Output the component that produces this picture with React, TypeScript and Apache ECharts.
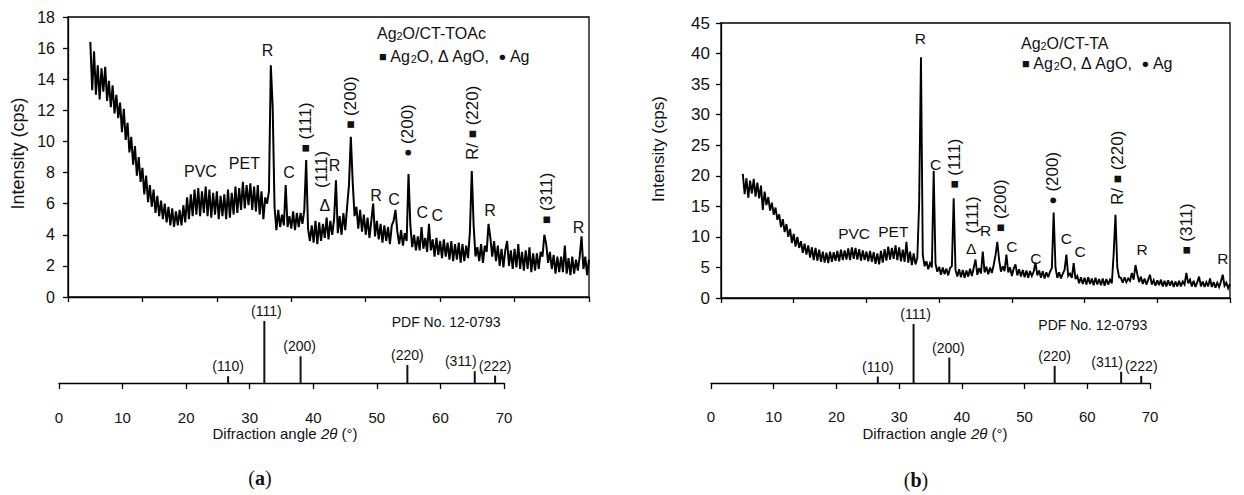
import React, { useEffect, useRef } from 'react';
import * as echarts from 'echarts';

// ---------- data ----------
const ANGLE_START = 3;
const ANGLE_STEP = 0.25;

// Ag2O/CT-TOAc, intensity (cps) from 3.00 deg to 70.00 deg every 0.25 deg
const intensityA = [
  16.4, 13.3, 15.8, 13.0, 14.9, 12.7, 14.7, 13.2,
  14.8, 12.6, 13.9, 12.2, 13.6, 11.8, 13.0, 11.5,
  12.5, 10.6, 12.1, 10.1, 11.2, 9.3, 10.3, 8.5,
  9.7, 7.8, 9.0, 7.4, 8.3, 6.6, 7.8, 6.1,
  7.2, 5.8, 6.9, 5.4, 6.5, 5.2, 6.2, 5.0,
  6.0, 4.8, 5.8, 4.6, 5.7, 4.5, 5.5, 4.6,
  5.6, 4.6, 5.9, 4.8, 6.4, 5.0, 6.6, 5.2,
  6.9, 5.3, 7.0, 5.2, 6.8, 5.4, 7.1, 5.2,
  6.9, 5.1, 6.7, 5.3, 6.8, 5.0, 6.5, 5.2,
  6.6, 5.0, 6.9, 5.1, 6.7, 5.3, 7.1, 5.4,
  7.0, 5.6, 7.4, 5.7, 7.2, 5.9, 7.3, 5.6,
  7.1, 5.5, 7.2, 5.3, 6.8, 5.0, 6.4, 6.0,
  6.8, 14.9, 12.2, 5.8, 4.3, 5.6, 4.5, 5.3,
  4.6, 7.2, 4.5, 5.2, 4.4, 5.5, 4.3, 5.4,
  4.5, 5.4, 4.7, 5.6, 8.8, 4.4, 3.6, 4.6,
  3.5, 4.9, 3.4, 4.8, 3.6, 4.7, 3.8, 5.1,
  3.7, 4.9, 4.0, 5.0, 7.5, 4.1, 5.2, 4.0,
  5.4, 4.3, 5.8, 7.2, 10.3, 7.4, 5.2, 5.8,
  4.4, 5.6, 4.2, 5.3, 4.0, 5.1, 3.8, 4.9,
  6.0, 3.9, 4.9, 3.7, 4.7, 3.5, 4.6, 3.6,
  4.5, 3.4, 4.6, 4.9, 5.6, 4.2, 3.4, 4.3,
  3.3, 4.1, 3.6, 7.9, 4.6, 3.2, 4.0, 3.0,
  3.9, 3.0, 4.5, 3.1, 3.8, 2.9, 4.7, 3.0,
  3.7, 2.6, 3.8, 2.7, 3.6, 2.5, 3.7, 2.6,
  3.5, 2.4, 3.6, 2.3, 3.4, 2.4, 3.5, 2.2,
  3.4, 2.3, 3.3, 2.5, 4.2, 8.1, 4.6, 2.6,
  3.2, 2.3, 3.4, 2.2, 3.3, 2.9, 4.7, 3.8,
  2.6, 3.6, 2.3, 3.3, 2.0, 3.1, 1.9, 3.0,
  3.6, 2.0, 3.0, 1.8, 3.1, 1.9, 3.4, 1.8,
  2.9, 1.7, 3.0, 1.8, 3.2, 1.6, 2.8, 1.7,
  2.8, 1.8, 2.9, 2.6, 4.0, 3.4, 2.2, 2.9,
  1.8, 2.7, 1.5, 2.6, 1.6, 2.6, 1.6, 3.3,
  1.5, 2.5, 1.4, 2.6, 1.5, 2.4, 1.7, 2.6,
  3.9, 1.8, 2.6, 1.4, 2.4,
];

// Ag2O/CT-TA, intensity (cps) from 3.00 deg to 70.00 deg every 0.25 deg
const intensityB = [
  20.3, 17.0, 19.6, 16.4, 19.2, 17.1, 19.5, 16.6,
  18.9, 16.3, 18.4, 14.4, 17.4, 15.2, 16.5, 14.3,
  15.6, 13.6, 14.8, 12.8, 13.7, 11.6, 12.9, 10.8,
  12.1, 10.0, 11.3, 9.0, 10.5, 8.4, 10.0, 8.2,
  9.3, 7.4, 8.9, 7.1, 8.6, 6.6, 8.3, 6.2,
  8.2, 6.1, 7.9, 5.9, 7.6, 5.8, 7.4, 5.7,
  7.6, 5.9, 7.5, 6.1, 7.7, 6.0, 7.9, 6.2,
  7.8, 6.3, 8.1, 6.2, 8.3, 6.4, 8.2, 6.3,
  8.0, 6.1, 7.8, 6.2, 7.6, 6.0, 7.7, 5.9,
  7.5, 5.6, 7.3, 5.5, 7.7, 5.8, 8.0, 6.1,
  8.4, 6.3, 8.2, 6.4, 8.6, 6.2, 8.3, 6.0,
  7.9, 5.9, 9.2, 5.8, 7.6, 5.4, 7.3, 5.5,
  6.6, 15.5, 39.4, 7.0, 5.2, 6.0, 4.7, 5.7,
  5.0, 20.8, 5.6, 4.3, 5.1, 3.8, 5.0, 3.9,
  4.8, 3.7, 4.9, 5.2, 16.3, 4.6, 3.5, 4.7,
  3.4, 4.6, 3.3, 4.5, 3.5, 4.8, 3.6, 4.9,
  6.3, 3.8, 4.9, 4.0, 7.6, 4.2, 5.1, 3.9,
  5.0, 4.1, 5.4, 7.0, 9.2, 6.2, 4.3, 5.2,
  4.4, 7.1, 4.2, 5.0, 3.6, 4.8, 5.5, 3.7,
  4.7, 3.5, 4.6, 3.4, 4.5, 3.3, 4.4, 3.6,
  4.3, 5.8, 3.7, 4.5, 3.3, 4.4, 3.2, 4.2,
  3.4, 4.3, 4.9, 14.0, 5.0, 3.3, 4.2, 3.2,
  4.0, 4.6, 7.1, 3.6, 4.0, 3.3, 5.7, 3.1,
  3.6, 2.4, 3.4, 2.3, 3.3, 2.2, 3.4, 2.3,
  3.2, 2.1, 3.3, 2.2, 3.1, 2.1, 3.2, 2.0,
  3.1, 2.2, 3.0, 2.4, 7.2, 13.6, 5.0, 3.4,
  3.3, 2.5, 3.4, 2.6, 3.2, 2.8, 4.1, 3.0,
  5.4, 3.9, 2.6, 3.5, 2.3, 3.2, 2.2, 3.0,
  3.8, 2.2, 2.9, 2.0, 2.9, 2.1, 3.0, 1.9,
  2.8, 1.9, 2.9, 2.0, 2.8, 1.8, 2.7, 1.9,
  2.8, 1.9, 2.7, 2.2, 4.1, 2.4, 3.0, 1.9,
  2.8, 1.8, 2.6, 3.5, 1.9, 2.7, 1.8, 2.6,
  1.9, 3.2, 1.8, 2.6, 1.7, 2.5, 1.8, 2.7,
  3.8, 2.0, 2.5, 1.6, 2.3,
];

// Reference pattern, Ag2O PDF No. 12-0793
const stickAngles = [26.6, 32.3, 38.0, 54.8, 65.4, 68.6];
const stickIntensity = [11, 100, 43, 29, 19, 12];
const stickLabels = ['(110)', '(111)', '(200)', '(220)', '(311)', '(222)'];
const stickLabelShift = [0, 2, -1, 0, -14, 0];

const angleTicks = { min: 0, max: 70, step: 10 };
const intensityTicksA = { min: 0, max: 18, step: 2 };
const intensityTicksB = { min: 0, max: 45, step: 5 };

// peak annotations: [text, angle, intensity, rotated]
const annotationsA: [string, number, number, number][] = [
  ['R', 26.8, 15.85, 0],
  ['PVC', 17.8, 8.1, 0],
  ['PET', 23.7, 8.6, 0],
  ['C', 29.7, 8.0, 0],
  ['{m|■} (111)', 31.9, 10.9, 1],
  ['(111)', 34.05, 8.2, 1],
  ['Δ', 34.5, 5.9, 0],
  ['R', 35.8, 8.45, 0],
  ['{m|■} (200)', 38.0, 12.5, 1],
  ['R', 41.4, 6.55, 0],
  ['C', 43.8, 6.25, 0],
  ['{d|●} (200)', 45.6, 10.7, 1],
  ['C', 47.6, 5.45, 0],
  ['C', 49.6, 5.25, 0],
  ['R/ {m|■} (220)', 54.3, 11.2, 1],
  ['R', 56.7, 5.55, 0],
  ['{m|■} (311)', 64.3, 6.35, 1],
  ['R', 68.6, 4.5, 0],
];
const annotationsB: [string, number, number, number][] = [
  ['R', 27.4, 42.4, 0],
  ['PVC', 18.3, 10.6, 0],
  ['PET', 23.7, 10.9, 0],
  ['C', 29.5, 21.9, 0],
  ['{m|■} (111)', 32.1, 22.0, 1],
  ['(111)', 34.6, 13.6, 1],
  ['Δ', 34.4, 8.15, 0],
  ['R', 36.4, 11.1, 0],
  ['{m|■} (200)', 38.5, 15.1, 1],
  ['C', 40.0, 8.5, 0],
  ['C', 43.3, 6.4, 0],
  ['{d|●} (200)', 45.6, 19.6, 1],
  ['C', 47.5, 9.8, 0],
  ['C', 49.4, 7.6, 0],
  ['R/ {m|■} (220)', 54.5, 21.3, 1],
  ['R', 57.9, 8.0, 0],
  ['{m|■} (311)', 64.0, 11.3, 1],
  ['R', 69.0, 6.4, 0],
];

const titleA = 'Ag{s|2}O/CT-TOAc';
const titleB = 'Ag{s|2}O/CT-TA';
const legendText = '{q|■} Ag{s|2}O, Δ AgO,  {d|●} Ag';
const pdfText = 'PDF No. 12-0793';
const yTitle = 'Intensity (cps)';
const xTitle = '{n|Difraction angle }{i|2θ}{n| (°)}';

// ---------- styling ----------
const FONT = '"Liberation Sans", Arial, Helvetica, sans-serif';
const INK = '#111';

const toPoints = (vals: number[]) => vals.map((v, i) => [ANGLE_START + i * ANGLE_STEP, v]);

function textEl(x: number, y: number, text: string, size: number, opts: any = {}) {
  const align = opts.align || 'center';
  return {
    type: 'text',
    x,
    y,
    rotation: opts.rotation || 0,
    silent: true,
    z: 100,
    style: {
      text,
      fontSize: size,
      fontFamily: opts.family || FONT,
      fontWeight: opts.weight || 'normal',
      fill: INK,
      align,
      textAlign: align,
      verticalAlign: 'middle',
      textVerticalAlign: 'middle',
      rich: opts.rich,
    },
  };
}

function topXAxis(gridIndex: number) {
  return {
    gridIndex,
    type: 'value',
    min: angleTicks.min,
    max: angleTicks.max,
    interval: angleTicks.step,
    axisLine: { show: true, onZero: false, lineStyle: { color: '#000', width: 1.3 } },
    axisTick: { show: true, inside: false, length: 5, lineStyle: { color: '#000', width: 1.3 } },
    axisLabel: { show: false },
    splitLine: { show: false },
  };
}
function bottomXAxis(gridIndex: number, margin: number) {
  return {
    gridIndex,
    type: 'value',
    min: angleTicks.min,
    max: angleTicks.max,
    interval: angleTicks.step,
    axisLine: { show: true, onZero: false, lineStyle: { color: '#000', width: 1.3 } },
    axisTick: { show: true, inside: false, length: 6, lineStyle: { color: '#000', width: 1.3 } },
    axisLabel: { show: true, margin, fontSize: 15, fontFamily: FONT, color: INK },
    splitLine: { show: false },
  };
}
function topYAxis(gridIndex: number, t: { min: number; max: number; step: number }, size: number, margin: number) {
  return {
    gridIndex,
    type: 'value',
    min: t.min,
    max: t.max,
    interval: t.step,
    axisLine: { show: true, onZero: false, lineStyle: { color: '#000', width: 1.3 } },
    axisTick: { show: true, inside: false, length: 5, lineStyle: { color: '#000', width: 1.3 } },
    axisLabel: { show: true, margin, fontSize: size, fontFamily: FONT, color: INK },
    splitLine: { show: false },
  };
}
function stickAxisY(gridIndex: number) {
  return { gridIndex, type: 'value', min: 0, max: 100, show: false };
}

function stickSeries(axisIndex: number) {
  return {
    type: 'bar',
    xAxisIndex: axisIndex,
    yAxisIndex: axisIndex,
    barWidth: 2,
    itemStyle: { color: '#111' },
    label: {
      show: true,
      position: 'top',
      distance: 3,
      formatter: '{b}',
      fontSize: 14,
      fontFamily: FONT,
      color: INK,
    },
    data: stickAngles.map((a, i) => ({
      name: stickLabels[i],
      value: [a, stickIntensity[i]],
      label: { offset: [stickLabelShift[i], 0] },
    })),
  };
}

function patternSeries(axisIndex: number, vals: number[], width: number) {
  return {
    type: 'line',
    xAxisIndex: axisIndex,
    yAxisIndex: axisIndex,
    data: toPoints(vals),
    symbol: 'none',
    showSymbol: false,
    clip: true,
    lineStyle: { color: '#000', width, join: 'miter', miterLimit: 3 },
  };
}

const subRich = (size: number) => ({
  s: { fontSize: size * 0.68, fontFamily: FONT, verticalAlign: 'bottom', lineHeight: size * 0.62 },
  q: { fontSize: size * 0.8, fontFamily: FONT },
  d: { fontSize: size * 0.8, fontFamily: FONT },
});

export default function App() {
  const ref = useRef<HTMLDivElement>(null);
  useEffect(() => {
    if (!ref.current) return;
    const chart = echarts.init(ref.current, null, { renderer: 'svg' });
    chart.setOption({
      animation: false,
      backgroundColor: '#fff',
      grid: [
        { left: 68, top: 17, width: 521, height: 280, show: true, borderColor: '#000', borderWidth: 1.3 },
        { left: 59, top: 321, width: 445, height: 62 },
        { left: 721, top: 23, width: 509, height: 275, show: true, borderColor: '#000', borderWidth: 1.3 },
        { left: 711, top: 324, width: 439, height: 59 },
      ],
      xAxis: [topXAxis(0), bottomXAxis(1, 27), topXAxis(2), bottomXAxis(3, 26)],
      yAxis: [
        topYAxis(0, intensityTicksA, 16, 13),
        stickAxisY(1),
        topYAxis(2, intensityTicksB, 17, 11),
        stickAxisY(3),
      ],
      series: [
        patternSeries(0, intensityA, 2),
        stickSeries(1),
        patternSeries(2, intensityB, 1.9),
        stickSeries(3),
      ],
    });

    const annot = (list: [string, number, number, number][], idx: number, size: number, rotSize: number) =>
      list.map(([t, a, v, r]) => {
        const p = chart.convertToPixel({ xAxisIndex: idx, yAxisIndex: idx }, [a, v]) as number[];
        const fs = r ? rotSize : size;
        return textEl(p[0], p[1], t, fs, {
          rotation: r ? Math.PI / 2 : 0,
          rich: {
            m: { fontSize: fs * 0.8, fontFamily: FONT },
            d: { fontSize: fs * 0.8, fontFamily: FONT },
          },
        });
      });

    const xRich = (size: number) => ({
      n: { fontSize: size, fontFamily: FONT },
      i: { fontSize: size, fontFamily: FONT, fontStyle: 'italic' },
    });
    const panelRich = {
      p: { fontSize: 20, fontFamily: '"Liberation Serif", "DejaVu Serif", serif' },
      b: { fontSize: 20, fontFamily: '"Liberation Serif", "DejaVu Serif", serif', fontWeight: 'bold' },
    };

    chart.setOption({
      graphic: [
        textEl(18, 153.5, yTitle, 18, { rotation: Math.PI / 2 }),
        textEl(658, 149, yTitle, 17, { rotation: Math.PI / 2 }),
        textEl(285, 433, xTitle, 15, { rich: xRich(15) }),
        textEl(935, 433, xTitle, 15, { rich: xRich(15) }),
        textEl(391.7, 321.7, pdfText, 14, { align: 'left' }),
        textEl(1038.3, 325, pdfText, 14, { align: 'left' }),
        textEl(377, 33.3, titleA, 16, { align: 'left', rich: subRich(16) }),
        textEl(379, 56.7, legendText, 16, { align: 'left', rich: subRich(16) }),
        textEl(1021, 43.3, titleB, 16, { align: 'left', rich: subRich(16) }),
        textEl(1022, 63.3, legendText, 16, { align: 'left', rich: subRich(16) }),
        textEl(260, 478, '{p|(}{b|a}{p|)}', 20, { rich: panelRich }),
        textEl(916, 480, '{p|(}{b|b}{p|)}', 20, { rich: panelRich }),
        ...annot(annotationsA, 0, 16, 17),
        ...annot(annotationsB, 2, 15.5, 17),
      ],
    });

    return () => chart.dispose();
  }, []);

  return (
    <div
      ref={ref}
      style={{ position: 'absolute', left: 0, top: 0, width: 1244, height: 495, background: '#fff' }}
    />
  );
}
